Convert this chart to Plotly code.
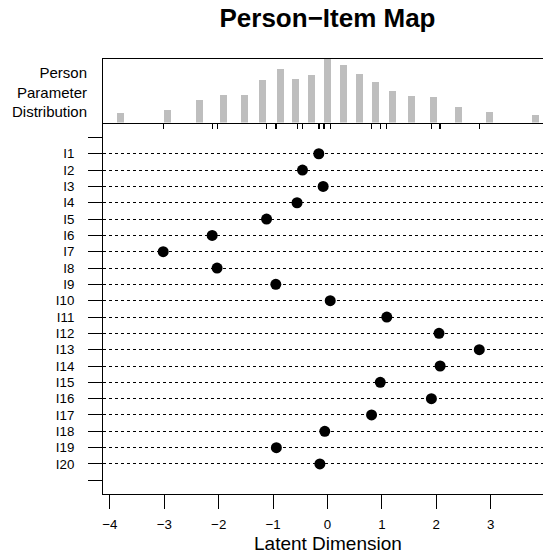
import plotly.graph_objects as go

# Item locations (difficulty) for I1..I20
items = [f"I{i}" for i in range(1, 21)]
item_loc = [-0.16, -0.46, -0.08, -0.56, -1.12, -2.12, -3.02, -2.03, -0.95, 0.05,
            1.09, 2.05, 2.79, 2.07, 0.97, 1.91, 0.81, -0.05, -0.94, -0.14]

# Person parameter distribution (histogram bars)
person_theta = [-3.81, -2.94, -2.36, -1.91, -1.53, -1.19, -0.87, -0.58, -0.29, 0.0,
                0.29, 0.58, 0.88, 1.20, 1.55, 1.94, 2.40, 2.97, 3.83]
person_freq = [9, 12, 22, 27, 27, 42, 53, 43, 47, 63,
               57, 48, 40, 31, 26, 25, 15, 10, 7]

x_ticks = [-4, -3, -2, -1, 0, 1, 2, 3, 4]
item_pos = list(range(1, 21))

FONT = "Liberation Sans, Arial, Helvetica, sans-serif"

W, H = 543, 556
ML, MR, MT, MB = 103, 0, 59, 62
plot_h = H - MT - MB
hist_px = 122.5 - MT
split = 1 - hist_px / plot_h
TICKLEN = 14

fig = go.Figure()

fig.add_trace(go.Bar(
    x=person_theta, y=person_freq, width=0.13,
    marker=dict(color="#BEBEBE", line=dict(width=0)),
    xaxis="x2", yaxis="y2", showlegend=False, hoverinfo="skip"))

fig.add_trace(go.Scatter(
    x=item_loc, y=item_pos, mode="markers",
    marker=dict(color="black", size=11),
    xaxis="x", yaxis="y", showlegend=False))

xr = [(ML - 327.5) / 54.4, (W - 327.5) / 54.4]

fig.update_layout(
    width=W, height=H,
    margin=dict(l=ML, r=MR, t=MT, b=MB),
    plot_bgcolor="white", paper_bgcolor="white",
    font=dict(family=FONT, color="black"),
    title=dict(text="<b>Person\u2212Item Map</b>", font=dict(size=26, family=FONT, color="black"),
               xref="paper", x=(327.5 - ML) / (W - ML), xanchor="center",
               yref="container", y=1 - 17.5 / H, yanchor="middle"),
    bargap=0,
    xaxis=dict(domain=[0, 1], anchor="y", range=xr, tickmode="array", tickvals=x_ticks,
               ticks="outside", ticklen=TICKLEN, tickwidth=1.3, tickcolor="#000000",
               showline=True, linecolor="black", linewidth=1,
               showgrid=False, zeroline=False,
               minor=dict(ticks="outside", ticklen=TICKLEN, tickwidth=1.3,
                          tickcolor="#000000", dtick=1, tick0=0, showgrid=False),
               tickfont=dict(size=13.3, family=FONT, color="black"),
               ticklabelstandoff=4),
    yaxis=dict(domain=[0, split], anchor="x", range=[21.84, -0.915],
               tickmode="array", tickvals=item_pos, ticktext=items,
               ticks="outside", ticklen=TICKLEN, tickwidth=1.3, tickcolor="#000000",
               showline=True, linecolor="black", linewidth=1,
               showgrid=True, gridcolor="black", gridwidth=1, griddash="dot",
               zeroline=False,
               minor=dict(ticks="outside", ticklen=TICKLEN, tickwidth=1.3,
                          tickcolor="#000000", dtick=1, tick0=1, showgrid=False),
               tickfont=dict(size=13.3, family=FONT, color="black"),
               ticklabelstandoff=11),
    xaxis2=dict(domain=[0, 1], anchor="y2", range=xr,
                tickvals=item_loc, ticks="outside", ticklen=5, tickwidth=1,
                tickcolor="black", showticklabels=False,
                showline=True, linecolor="black", linewidth=1, mirror=True,
                showgrid=False, zeroline=False),
    yaxis2=dict(domain=[split, 1], anchor="x2", range=[0, 63],
                showticklabels=False, ticks="", showline=True, linecolor="black",
                linewidth=1, showgrid=False, zeroline=False),
    annotations=[
        dict(text="Latent Dimension", xref="x", x=0, yref="paper",
             y=-(543.3 - (H - MB)) / plot_h, yanchor="middle", xanchor="center",
             showarrow=False, font=dict(size=19, family=FONT, color="black")),
        dict(text="Person<br>Parameter<br>Distribution", xref="paper",
             x=(89 - ML) / (W - ML), xanchor="right", align="right",
             yref="paper", y=((H - MB) - 92.3) / plot_h, yanchor="middle",
             showarrow=False, font=dict(size=15, family=FONT, color="black")),
    ],
)

fig.write_html("out.html")
